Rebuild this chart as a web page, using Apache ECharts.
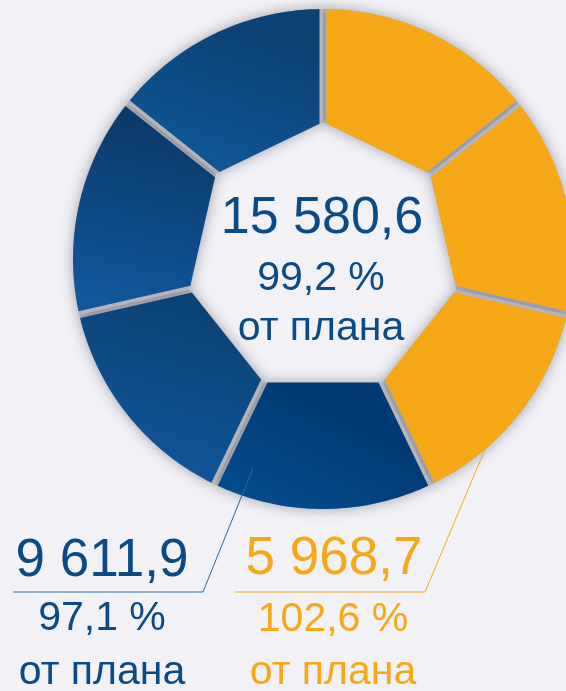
<!DOCTYPE html>
<html>
<head>
<meta charset="utf-8">
<script src="https://cdn.jsdelivr.net/npm/echarts@6/dist/echarts.min.js"></script>
<style>
html,body{margin:0;padding:0;background:#f1f1f6;}
#chart{width:566px;height:691px;}
</style>
</head>
<body>
<div id="chart"></div>
<script>
// slices clockwise from 12 o'clock, all the same size on the picture
var sliceGroup = [1, 1, 1, 0, 0, 0, 0];   // 0 - blue, 1 - orange
var sliceShare = [1, 1, 1, 1, 1, 1, 1];

var groupValue = [9611.9, 5968.7];
var groupPlan = [97.1, 102.6];
var totalValue = [15580.6];
var totalPlan = [99.2];
var planText = 'от плана';

var BLUE = '#0b4a85', ORANGE = '#f5a81a';
var CX = 323, CY = 259, RO = 250, RI = 137, GAP = 7;
var FONT = '"Liberation Sans", Arial, sans-serif';

function fmt(v) {
    var p = v.toFixed(1).split('.');
    return p[0].replace(/\B(?=(\d{3})+(?!\d))/g, ' ') + ',' + p[1];
}
function pct(v) { return v.toFixed(1).replace('.', ',') + ' %'; }

function ang(i) {
    var tot = 0, before = 0;
    for (var k = 0; k < sliceShare.length; k++) {
        tot += sliceShare[k];
        if (k < i) before += sliceShare[k];
    }
    var a1 = Math.PI / 2 - before / tot * 2 * Math.PI;
    return [a1, a1 - sliceShare[i] / tot * 2 * Math.PI];
}
function pt(r, a) { return [CX + r * Math.cos(a), CY - r * Math.sin(a)]; }

// outer edge is an arc, inner edge is a straight side of the heptagon
function slicePoints(i, gap) {
    var a = ang(i), a1 = a[0], a2 = a[1];
    var d = Math.asin(gap / 2 / RO);
    var pts = [], n = 48;
    for (var k = 0; k <= n; k++) {
        pts.push(pt(RO, (a1 - d) + ((a2 + d) - (a1 - d)) * k / n));
    }
    var v1 = pt(RI, a1), v2 = pt(RI, a2);
    var dx = v2[0] - v1[0], dy = v2[1] - v1[1], len = Math.sqrt(dx * dx + dy * dy);
    var s = gap / 2 / Math.cos((a1 - a2) / 2);
    pts.push([v2[0] - dx / len * s, v2[1] - dy / len * s]);
    pts.push([v1[0] + dx / len * s, v1[1] + dy / len * s]);
    return pts;
}

// gradient per slice (top colour, bottom colour)
var sliceFill = [
    null, null, null,
    ['#013a72', '#064e91'],
    ['#0c4375', '#1159a0'],
    ['#0a3966', '#1159a0'],
    ['#0c4274', '#105a9d']
];

var chart = echarts.init(document.getElementById('chart'));
var data = sliceShare.map(function (v, i) { return [v, sliceGroup[i]]; });

var option = {
    backgroundColor: '#f1f1f6',
    animation: false,
    series: [
        {
            type: 'custom',
            coordinateSystem: 'none',
            silent: true,
            z: 1,
            data: data,
            renderItem: function (params) {
                return {
                    type: 'polygon',
                    shape: { points: slicePoints(params.dataIndex, 0) },
                    style: {
                        fill: '#b4b4bb',
                        shadowBlur: 14,
                        shadowColor: 'rgba(40,40,60,0.4)'
                    }
                };
            }
        },
        {
            type: 'custom',
            coordinateSystem: 'none',
            silent: true,
            z: 2,
            data: data,
            renderItem: function (params, api) {
                var i = params.dataIndex;
                var fill;
                if (api.value(1) === 1) {
                    fill = '#f6a817';
                } else {
                    fill = new echarts.graphic.LinearGradient(0.3, 0, 0, 1, [
                        { offset: 0, color: sliceFill[i][0] },
                        { offset: 1, color: sliceFill[i][1] }
                    ]);
                }
                return {
                    type: 'polygon',
                    shape: { points: slicePoints(i, GAP) },
                    style: { fill: fill }
                };
            }
        }
    ],
    graphic: [
        // centre
        { type: 'text', x: 322, y: 219, z: 100, style: { text: fmt(totalValue[0]), font: '52px ' + FONT, fill: BLUE, align: 'center', verticalAlign: 'middle' } },
        { type: 'text', x: 321, y: 279, z: 100, style: { text: pct(totalPlan[0]), font: '41px ' + FONT, fill: BLUE, align: 'center', verticalAlign: 'middle' } },
        { type: 'text', x: 321, y: 329, z: 100, style: { text: planText, font: '41px ' + FONT, fill: BLUE, align: 'center', verticalAlign: 'middle' } },

        // blue group
        { type: 'polyline', z: 100, shape: { points: [[253, 468], [203, 592], [13, 592]] }, style: { stroke: '#2c67ab', lineWidth: 1, fill: null } },
        { type: 'text', x: 102, y: 561, z: 100, style: { text: fmt(groupValue[0]), font: '53px ' + FONT, fill: BLUE, align: 'center', verticalAlign: 'middle' } },
        { type: 'text', x: 102, y: 619, z: 100, style: { text: pct(groupPlan[0]), font: '41px ' + FONT, fill: BLUE, align: 'center', verticalAlign: 'middle' } },
        { type: 'text', x: 102, y: 673, z: 100, style: { text: planText, font: '41px ' + FONT, fill: BLUE, align: 'center', verticalAlign: 'middle' } },

        // orange group
        { type: 'polyline', z: 100, shape: { points: [[486, 447], [425, 592], [235, 592]] }, style: { stroke: '#f5a81a', lineWidth: 1, fill: null } },
        { type: 'text', x: 334, y: 559, z: 100, style: { text: fmt(groupValue[1]), font: '53px ' + FONT, fill: ORANGE, align: 'center', verticalAlign: 'middle' } },
        { type: 'text', x: 333, y: 620, z: 100, style: { text: pct(groupPlan[1]), font: '41px ' + FONT, fill: ORANGE, align: 'center', verticalAlign: 'middle' } },
        { type: 'text', x: 333, y: 673, z: 100, style: { text: planText, font: '41px ' + FONT, fill: ORANGE, align: 'center', verticalAlign: 'middle' } }
    ]
};
chart.setOption(option);
</script>
</body>
</html>
